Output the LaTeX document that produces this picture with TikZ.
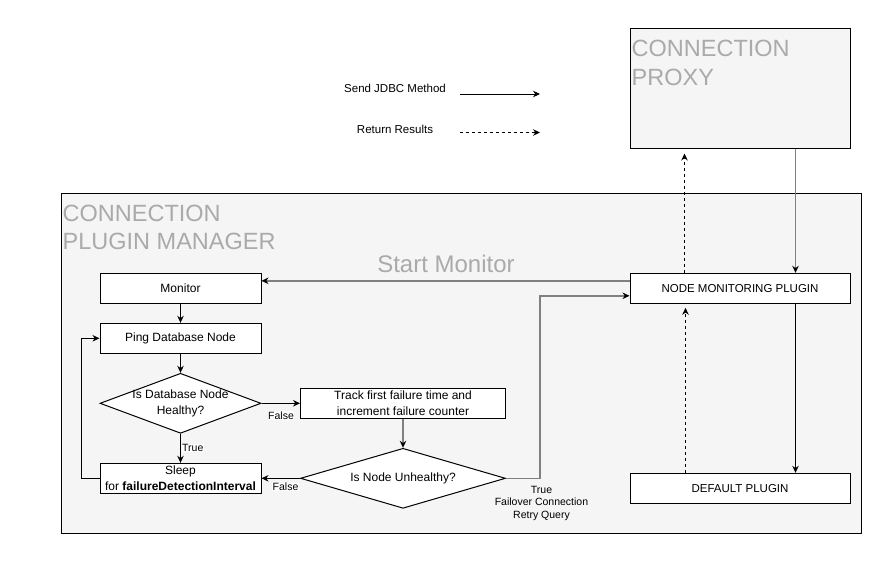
\documentclass[tikz,border=0pt]{standalone}
\usepackage{fontspec}
\setmainfont{Liberation Sans}
\usetikzlibrary{arrows.meta,shapes.geometric}
\definecolor{panel}{HTML}{F5F5F5}
\definecolor{titlegray}{HTML}{AAAAAA}
\definecolor{linegray}{HTML}{808080}
\tikzset{
  container/.style={draw=black, fill=panel, line width=1pt},
  title/.style={text=titlegray, font=\fontsize{23.5}{28.3}\selectfont, align=left, inner sep=0pt},
  box/.style={draw=black, fill=white, line width=1pt, minimum height=30pt, inner sep=0pt, align=center, font=\fontsize{12}{16}\selectfont},
  pbox/.style={draw=black, fill=white, line width=1pt, minimum width=220pt, minimum height=30pt, inner sep=0pt, font=\fontsize{11.5}{14}\selectfont},
  dia/.style={draw=black, fill=white, line width=1pt, shape=diamond, inner sep=0pt},
  diatext/.style={align=center, font=\fontsize{12}{15.5}\selectfont, inner sep=0pt},
  lbl/.style={font=\fontsize{10.5}{12.5}\selectfont, inner sep=0.5pt, fill=white},
  lgd/.style={font=\fontsize{11.5}{14}\selectfont, inner sep=0pt},
  tip/.style={-{Stealth[length=7pt,width=6.5pt,color=black]}},
  arr/.style={tip, draw=black, line width=1pt},
  garr/.style={tip, draw=linegray, line width=1.6pt},
  darr/.style={tip, draw=black, line width=1pt, dash pattern=on 3pt off 3pt},
}
\begin{document}
\begin{tikzpicture}[x=1pt,y=-1pt]
\useasboundingbox (0,0) rectangle (890,573);
% containers
\node[container, minimum width=220pt, minimum height=120pt, inner sep=0pt] (cp) at (740,88) {};
\node[title, anchor=base west] (cpt) at (631.5,85) {CONNECTION\\PROXY};
\node[container, minimum width=800pt, minimum height=340pt, inner sep=0pt] (pm) at (461,363.3) {};
\node[title, anchor=base west] (pmt) at (62.5,249.5) {CONNECTION\\PLUGIN MANAGER};
% legend
\node[lgd] (l1) at (395,88) {Send JDBC Method};
\node[lgd] (l2) at (395,129.5) {Return Results};
\coordinate (l1a) at (460,94);
\coordinate (l1b) at (540,94);
\coordinate (l2a) at (460,132.5);
\coordinate (l2b) at (540,132.5);
\draw[arr] (l1a) -- (l1b);
\draw[darr] (l2a) -- (l2b);
% right boxes
\node[pbox] (nmp) at (740,288.3) {NODE MONITORING PLUGIN};
\node[pbox] (dp) at (740,488.3) {DEFAULT PLUGIN};
% flowchart
\node[box, minimum width=161pt] (mon) at (180.5,288.3) {Monitor};
\node[box, minimum width=161pt] (ping) at (180.5,338.3) {Ping Database Node};
\node[dia, minimum width=161pt, minimum height=60pt] (d1) at (180.5,403.3) {};
\node[diatext] (d1t) at (180.5,403.3) {Is Database Node\\Healthy?};
\node[box, minimum width=161pt] (sleep) at (180.5,478.3) {Sleep\\for \textbf{failureDetectionInterval}};
\node[box, minimum width=205pt] (track) at (403,403.3) {Track first failure time and\\increment failure counter};
\node[dia, minimum width=205pt, minimum height=60pt] (d2) at (403,478.3) {};
\node[diatext] (d2t) at (403,478.3) {Is Node Unhealthy?};
% start monitor
\node[text=titlegray, font=\fontsize{24}{28}\selectfont, inner sep=0pt, anchor=base] (sm) at (446,272.7) {Start Monitor};
% connectors
\draw[garr] ([xshift=55.5pt]cp.south) -- ([xshift=55.5pt]nmp.north);
\draw[darr, shorten >=5pt] ([xshift=-55.5pt]nmp.north) -- ([xshift=-55.5pt]cp.south);
\draw[arr] ([xshift=55.5pt]nmp.south) -- ([xshift=55.5pt]dp.north);
\draw[darr, shorten >=4pt] ([xshift=-54.5pt]dp.north) -- ([xshift=-54.5pt]nmp.south);
\draw[garr] ([yshift=7.5pt]nmp.west) -- ([yshift=7.5pt]mon.east);
\draw[arr] (mon) -- (ping);
\draw[arr] (ping) -- (d1);
\draw[arr] (d1.east) -- (track.west);
\draw[arr] (d1.south) -- (sleep.north);
\draw[garr] (track.south) -- (d2.north);
\draw[arr] (d2.west) -- (sleep.east);
\coordinate (loop) at (81,478.3);
\draw[arr] (sleep.west) -- (loop) |- (ping.west);
\coordinate (j1) at (540,295.8);
\draw[garr] (d2.east) -| (j1) -- ([yshift=-7.5pt]nmp.west);
% labels
\node[lbl] (f1) at (281,415.7) {False};
\node[lbl, anchor=west] (t1) at (181.5,448) {True};
\node[lbl] (f2) at (285.5,487) {False};
\node[font=\fontsize{10.5}{12.5}\selectfont, align=center, inner sep=0pt, anchor=north] (t2) at (541.5,486) {True\\Failover Connection\\Retry Query};
\end{tikzpicture}
\end{document}
